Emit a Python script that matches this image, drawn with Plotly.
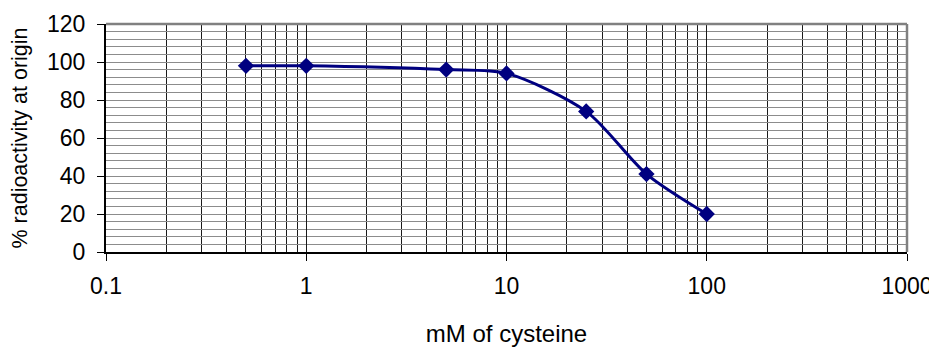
import plotly.graph_objects as go

cysteine_mM = [0.5, 1, 5, 10, 25, 50, 100]
radioactivity_pct = [98, 98, 96, 94, 74, 41, 20]
x_tick_vals = [0.1, 1, 10, 100, 1000]
x_tick_text = ["0.1", "1", "10", "100", "1000"]

FONT = "Liberation Sans, Arial, sans-serif"
NAVY = "#000080"

fig = go.Figure()
fig.add_trace(go.Scatter(
    x=cysteine_mM, y=radioactivity_pct,
    mode="lines+markers",
    line=dict(color=NAVY, width=3, shape="spline", smoothing=0.8),
    marker=dict(symbol="diamond", size=12.5, color=NAVY, line=dict(width=0)),
    showlegend=False,
))

fig.update_layout(
    width=929, height=339,
    margin=dict(l=98, r=30, t=16, b=95, autoexpand=False),
    paper_bgcolor="white", plot_bgcolor="white",
    font=dict(family=FONT, size=23, color="black"),
    xaxis=dict(
        type="log", range=[-1, 3],
        tickvals=x_tick_vals, ticktext=x_tick_text,
        ticks="outside", ticklen=7, tickwidth=1, tickcolor="black",
        tickfont=dict(size=23), ticklabelstandoff=5,
        showgrid=True, gridcolor="#1a1a1a", gridwidth=1,
        minor=dict(dtick="D1", showgrid=True, gridcolor="#1a1a1a", gridwidth=1, ticks=""),
        showline=True, linecolor="black", linewidth=2,
        zeroline=False,
        title=dict(text="mM of cysteine", standoff=28, font=dict(size=24)),
        automargin=False,
    ),
    yaxis=dict(
        range=[0, 120], dtick=20,
        ticks="outside", ticklen=7, tickwidth=1, tickcolor="black",
        tickfont=dict(size=23), ticklabelstandoff=7,
        showgrid=True, gridcolor="#8c8c8c", gridwidth=1,
        minor=dict(dtick=4, showgrid=True, gridcolor="#8c8c8c", gridwidth=1, ticks=""),
        showline=True, linecolor="black", linewidth=2,
        zeroline=False,
        title=dict(text="% radioactivity at origin", standoff=19, font=dict(size=21.5)),
        automargin=False,
    ),
)

# gray frame on top and right (Excel plot-area border)
fig.add_shape(type="line", xref="paper", yref="paper", x0=0, x1=1, y0=1, y1=1,
              line=dict(color="#808080", width=2.5), layer="above")
fig.add_shape(type="line", xref="paper", yref="paper", x0=1, x1=1, y0=0, y1=1,
              line=dict(color="#808080", width=2.5), layer="above")

fig.write_html("out.html")
